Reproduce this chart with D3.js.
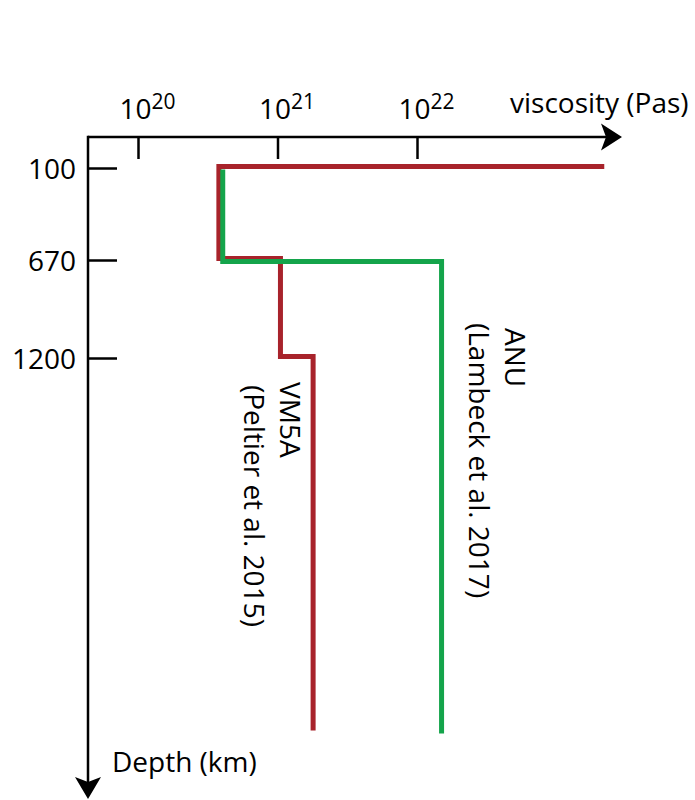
<!DOCTYPE html>
<html>
<head>
<meta charset="utf-8">
<script src="https://cdn.jsdelivr.net/npm/d3@7"></script>
<style>
  html, body { margin: 0; padding: 0; background: #fff; }
  svg { display: block; }
  svg text { font-family: "Open Sans", "Noto Sans", sans-serif; }
</style>
</head>
<body>
<svg id="chart" width="695" height="800"></svg>
<script>
// axis ticks
const viscosityTicks = [1e20, 1e21, 1e22];
const viscosityExponents = ["20", "21", "22"];
const depthTicks = [100, 670, 1200];

// VM5A (Peltier et al. 2015): [viscosity Pa s, depth km] corner points
const vm5aViscosity = [2.2e23, 3.8e20, 3.8e20, 1.05e21, 1.05e21, 1.8e21, 1.8e21];
const vm5aDepth = [100, 100, 670, 670, 1200, 1200, 2891];

// ANU (Lambeck et al. 2017)
const anuViscosity = [4.05e20, 4.05e20, 1.5e22, 1.5e22];
const anuDepth = [100, 670, 670, 2891];

const RED = "#a8232b";
const GREEN = "#14a44b";

const svg = d3.select("#chart");

const x = d3.scaleLog().domain([1e20, 1e22]).range([138, 417]);
// schematic depth axis, piecewise between labelled boundaries
const y = d3.scaleLinear().domain([0, 100, 670, 1200, 2891]).range([137, 168, 260, 358, 732]);

const originX = 88;
const originY = 137;

// viscosity axis (ticks hang below the line)
const xAxis = svg.append("g")
  .attr("transform", `translate(0, ${originY})`)
  .call(d3.axisTop(x).tickValues(viscosityTicks).tickSizeInner(-22).tickSizeOuter(0).tickFormat(""))
  .attr("font-family", null)
  .attr("font-size", null);
xAxis.select(".domain").remove();
xAxis.selectAll(".tick line").attr("stroke", "#000").attr("stroke-width", 2.5);
xAxis.selectAll(".tick text").remove();
xAxis.selectAll(".tick").each(function (d, i) {
  const t = d3.select(this).append("text")
    .attr("x", -19)
    .attr("y", -18)
    .attr("text-anchor", "start")
    .attr("fill", "#000")
    .style("font-size", "28px");
  t.append("tspan").text("10");
  t.append("tspan").attr("dy", -10).style("font-size", "21px").text(viscosityExponents[i]);
});

// depth axis (ticks point into the plot, labels on the left)
const yAxis = svg.append("g")
  .attr("transform", `translate(${originX}, 0)`)
  .call(d3.axisLeft(y).tickValues(depthTicks).tickSizeInner(-29).tickSizeOuter(0).tickPadding(12).tickFormat((d) => String(d)))
  .attr("font-family", null)
  .attr("font-size", null);
yAxis.select(".domain").remove();
yAxis.selectAll(".tick line").attr("stroke", "#000").attr("stroke-width", 2.5);
yAxis.selectAll(".tick text")
  .attr("fill", "#000")
  .attr("dy", "0.39em")
  .style("font-size", "28px");

// axis lines with arrow heads
svg.append("path")
  .attr("d", `M${originX},${originY}H606`)
  .attr("stroke", "#000").attr("stroke-width", 2.5).attr("fill", "none");
svg.append("path")
  .attr("d", "M622,137L601,123.5L606,137L601,150.5Z")
  .attr("fill", "#000");
svg.append("path")
  .attr("d", `M${originX},${originY - 1.25}V782`)
  .attr("stroke", "#000").attr("stroke-width", 2.5).attr("fill", "none");
svg.append("path")
  .attr("d", "M88,799L75,777L88,782L101,777Z")
  .attr("fill", "#000");

svg.append("text")
  .attr("x", 510).attr("y", 113)
  .style("font-size", "28px")
  .text("viscosity (Pas)");
svg.append("text")
  .attr("x", 112).attr("y", 772)
  .style("font-size", "28px")
  .text("Depth (km)");

// viscosity profiles
const line = d3.line()
  .x((d) => x(d[0]))
  .y((d) => y(d[1]));

const profiles = [
  { name: "VM5A", visc: vm5aViscosity, depth: vm5aDepth, color: RED, shift: -1.5 },
  { name: "ANU", visc: anuViscosity, depth: anuDepth, color: GREEN, shift: 1.5 }
];

svg.append("g").selectAll("path")
  .data(profiles)
  .join("path")
  .attr("transform", (d) => `translate(0, ${d.shift})`)
  .attr("d", (d) => line(d.visc.map((v, i) => [v, d.depth[i]])))
  .attr("fill", "none")
  .attr("stroke", (d) => d.color)
  .attr("stroke-width", 5)
  .attr("stroke-linejoin", "miter")
  .attr("stroke-linecap", "butt");

// rotated model labels
function rotatedLabel(px, py, text) {
  svg.append("text")
    .attr("transform", `translate(${px}, ${py}) rotate(90)`)
    .attr("text-anchor", "start")
    .style("font-size", "28px")
    .text(text);
}
rotatedLabel(280, 382, "VM5A");
rotatedLabel(244, 385, "(Peltier et al. 2015)");
rotatedLabel(505, 328, "ANU");
rotatedLabel(469, 323, "(Lambeck et al. 2017)");
</script>
</body>
</html>
